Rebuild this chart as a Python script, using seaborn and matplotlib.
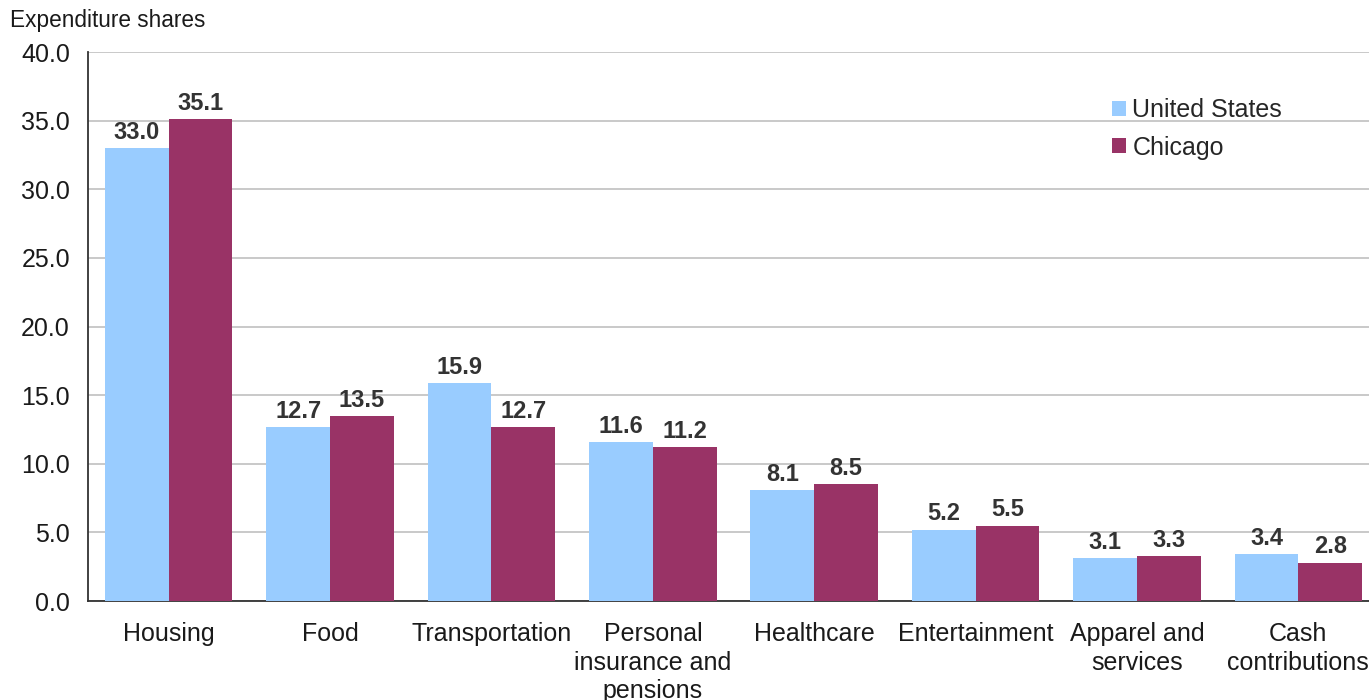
import pandas as pd
import matplotlib
matplotlib.use("Agg")
import matplotlib.pyplot as plt
import seaborn as sns

categories = ["Housing", "Food", "Transportation", "Personal\ninsurance and\npensions",
              "Healthcare", "Entertainment", "Apparel and\nservices", "Cash\ncontributions"]
us_values = [33.0, 12.7, 15.9, 11.6, 8.1, 5.2, 3.1, 3.4]
chicago_values = [35.1, 13.5, 12.7, 11.2, 8.5, 5.5, 3.3, 2.8]
series = ["United States", "Chicago"]
yticks = [0, 5, 10, 15, 20, 25, 30, 35, 40]

df = pd.DataFrame({
    "category": categories * 2,
    "share": us_values + chicago_values,
    "region": [series[0]] * len(categories) + [series[1]] * len(categories),
})

sns.set_style("white")
plt.rcParams["font.family"] = ["Liberation Sans", "DejaVu Sans"]

fig = plt.figure(figsize=(13.69, 7), dpi=100)
ax = fig.add_axes([0.0643, 0.1414, 0.943, 0.7843])

palette = {"United States": "#99ccff", "Chicago": "#993366"}
sns.barplot(data=df, x="category", y="share", hue="region", palette=palette,
            width=0.79, saturation=1, linewidth=0, ax=ax, zorder=3)

for c in ax.containers:
    ax.bar_label(c, fmt="%.1f", padding=3, fontsize=17, fontweight="bold", color="#333333")

ax.set_ylim(0, 40)
ax.set_xlim(-0.5, len(categories) - 0.5)
ax.set_yticks(yticks)
ax.set_yticklabels([f"{v:.1f}" for v in yticks], fontsize=18, color="#1a1a1a")
ax.set_xticks(range(len(categories)))
ax.set_xticklabels(categories, fontsize=18, color="#1a1a1a", linespacing=1.25)
ax.tick_params(axis="x", length=0, pad=15)
ax.tick_params(axis="y", length=0, pad=13)
ax.yaxis.grid(True, color="#c0c0c0", linewidth=1.2, zorder=0)
ax.set_axisbelow(True)
ax.set_xlabel("")
ax.set_ylabel("")
for s in ["top", "right"]:
    ax.spines[s].set_visible(False)
for s in ["left", "bottom"]:
    ax.spines[s].set_color("#333333")
    ax.spines[s].set_linewidth(1.3)

ax.legend(title=None, frameon=False, loc="upper left", bbox_to_anchor=(0.780, 0.948),
          fontsize=18, handlelength=0.55, handleheight=0.55, handletextpad=0.25,
          labelspacing=0.55, borderpad=0.2)

fig.text(0.007, 0.97, "Expenditure shares", fontsize=16.3, color="#1a1a1a", va="center")

fig.savefig("out.png", dpi=100)
